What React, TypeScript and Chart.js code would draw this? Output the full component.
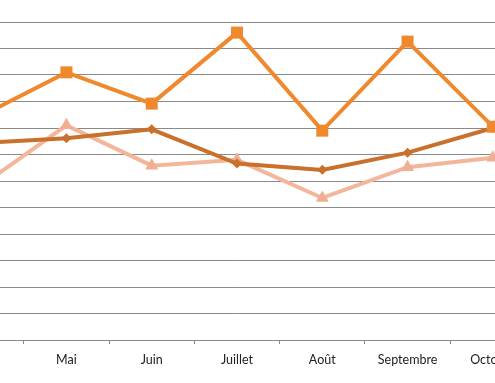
import React, { useEffect, useRef } from "react";
import { Chart, registerables } from "chart.js";

Chart.register(...registerables);

const categories = ["Avril", "Mai", "Juin", "Juillet", "Août", "Septembre", "Octobre"];
const seriesOrange = [8.45, 10.1, 8.92, 11.6, 7.9, 11.26, 8.05];
const seriesBrown = [7.43, 7.61, 7.95, 6.66, 6.42, 7.07, 8.0];
const seriesPink = [5.82, 8.1, 6.58, 6.8, 5.36, 6.52, 6.88];
const yMin = 0;
const yMax = 12;

export default function App() {
  const ref = useRef<HTMLCanvasElement | null>(null);

  useEffect(() => {
    if (!ref.current) return;
    const chart = new Chart(ref.current, {
      type: "line",
      data: {
        labels: categories,
        datasets: [
          {
            label: "A",
            data: seriesOrange,
            borderColor: "#F0892E",
            backgroundColor: "#F0892E",
            borderWidth: 4,
            pointStyle: "rect",
            pointRadius: 8.5,
            pointBorderWidth: 0,
            tension: 0,
          },
          {
            label: "B",
            data: seriesBrown,
            borderColor: "#C8702C",
            backgroundColor: "#C8702C",
            borderWidth: 4,
            pointStyle: "rectRot",
            pointRadius: 5,
            pointBorderWidth: 0,
            tension: 0,
          },
          {
            label: "C",
            data: seriesPink,
            borderColor: "#F4B69A",
            backgroundColor: "#F0AE92",
            borderWidth: 4,
            pointStyle: "triangle",
            pointRadius: 7.5,
            pointBorderWidth: 0,
            tension: 0,
          },
        ],
      },
      options: {
        animation: false,
        responsive: false,
        maintainAspectRatio: false,
        layout: { padding: { top: 22, left: 0, right: 0, bottom: 0 } },
        plugins: { legend: { display: false }, tooltip: { enabled: false } },
        scales: {
          x: {
            offset: true,
            grid: {
              offset: true,
              drawOnChartArea: false,
              drawTicks: true,
              tickLength: 4,
              color: "#8a8a8a",
            },
            border: { display: true, color: "#8a8a8a" },
            ticks: {
              color: "#222",
              font: { family: "Lato", size: 12.5 },
              padding: 8,
              maxRotation: 0,
              autoSkip: false,
            },
            afterFit: (s: any) => {
              s.height = 43;
            },
          },
          y: {
            min: yMin,
            max: yMax,
            ticks: { display: false, stepSize: 1 },
            grid: { color: "#8a8a8a", lineWidth: 1, drawTicks: false },
            border: { display: false },
            afterFit: (s: any) => {
              s.width = 0;
            },
          },
        },
      },
    });
    return () => chart.destroy();
  }, []);

  return (
    <div
      style={{
        position: "fixed",
        left: 0,
        top: 0,
        width: 495,
        height: 383,
        overflow: "hidden",
        background: "#fff",
      }}
    >
      <canvas
        ref={ref}
        width={614}
        height={383}
        style={{ position: "absolute", left: -70.5, top: 0, width: 614, height: 383 }}
      />
    </div>
  );
}
